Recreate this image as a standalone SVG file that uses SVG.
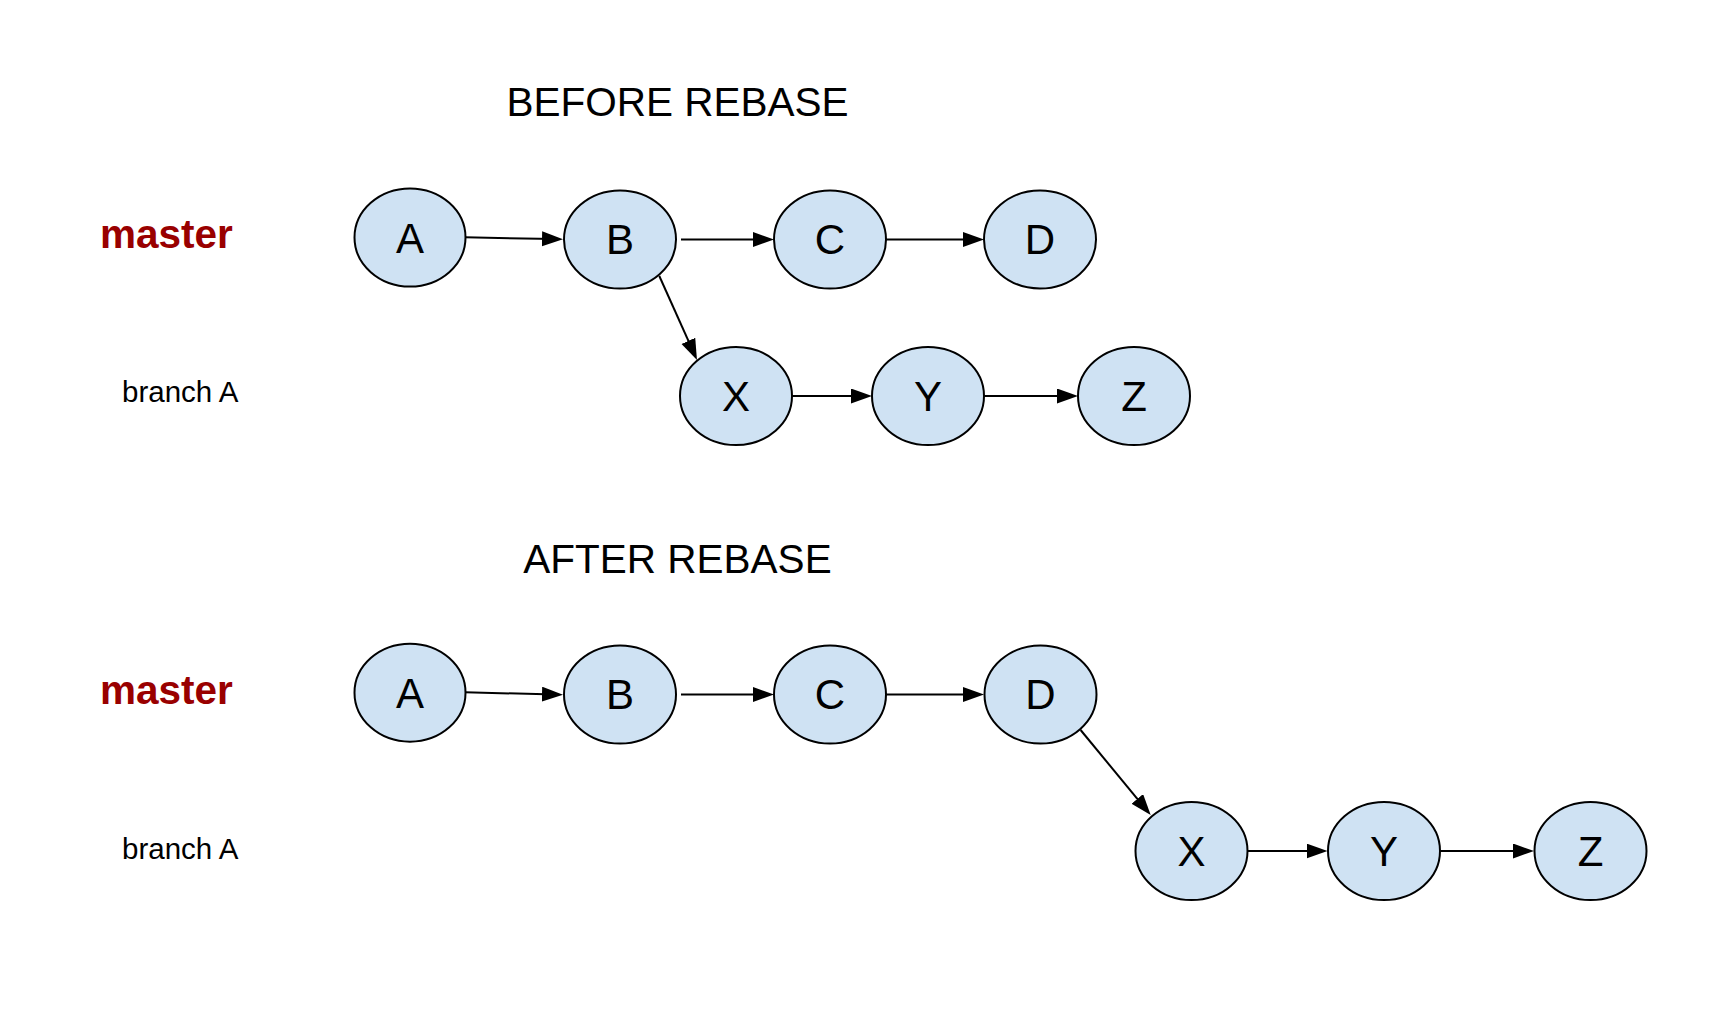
<svg xmlns="http://www.w3.org/2000/svg" width="1736" height="1031" viewBox="0 0 1736 1031">
<style>
  .node ellipse { fill: #cfe2f3; stroke: #000; stroke-width: 2; }
  .node text { font-family: "Liberation Sans", Arial, sans-serif; font-size: 42px; fill: #000; text-anchor: middle; }
  .title { font-family: "Liberation Sans", Arial, sans-serif; font-size: 40.5px; fill: #000; text-anchor: middle; }
  .master { font-family: "Liberation Sans", Arial, sans-serif; font-size: 40.5px; font-weight: bold; fill: #990000; }
  .branch { font-family: "Liberation Sans", Arial, sans-serif; font-size: 29.5px; fill: #000; }
  .edge { stroke: #000; stroke-width: 2; fill: none; marker-end: url(#arrow); }
</style>
<defs>
  <marker id="arrow" markerUnits="userSpaceOnUse" markerWidth="22" markerHeight="16" refX="13" refY="7.5" orient="auto">
    <path d="M0,0 L21,7.5 L0,15 Z" fill="#000"/>
  </marker>
</defs>
<rect x="0" y="0" width="1736" height="1031" fill="#fff"/>

<g id="labels">
  <text class="title" x="677.5" y="116">BEFORE REBASE</text>
  <text class="master" x="100" y="248.3">master</text>
  <text class="branch" x="122" y="402.3">branch A</text>
  <text class="title" x="677.5" y="572.7">AFTER REBASE</text>
  <text class="master" x="100" y="704">master</text>
  <text class="branch" x="122" y="858.5">branch A</text>
</g>

<g id="connectors">
  <line class="edge" x1="465" y1="237.3" x2="555" y2="239.1"/>
  <line class="edge" x1="681" y1="239.5" x2="766" y2="239.5"/>
  <line class="edge" x1="886" y1="239.5" x2="976" y2="239.5"/>
  <line class="edge" x1="659.3" y1="276" x2="693.7" y2="352.7"/>
  <line class="edge" x1="792" y1="396" x2="864" y2="396"/>
  <line class="edge" x1="984" y1="396" x2="1070" y2="396"/>

  <line class="edge" x1="465" y1="692.3" x2="555" y2="694.5"/>
  <line class="edge" x1="681" y1="694.5" x2="766" y2="694.5"/>
  <line class="edge" x1="886" y1="694.5" x2="976" y2="694.5"/>
  <line class="edge" x1="1080.6" y1="730" x2="1145.6" y2="808.9"/>
  <line class="edge" x1="1247.5" y1="851" x2="1319.5" y2="851"/>
  <line class="edge" x1="1440.5" y1="851" x2="1526" y2="851"/>
</g>

<g id="node-before-A" class="node"><ellipse cx="410" cy="237.5" rx="55.5" ry="49"/><text x="410" y="252.7">A</text></g>
<g id="node-before-B" class="node"><ellipse cx="620" cy="239.5" rx="56" ry="49"/><text x="620" y="254">B</text></g>
<g id="node-before-C" class="node"><ellipse cx="830" cy="239.5" rx="56" ry="49"/><text x="830" y="254">C</text></g>
<g id="node-before-D" class="node"><ellipse cx="1040" cy="239.5" rx="56" ry="49"/><text x="1040" y="254">D</text></g>
<g id="node-before-X" class="node"><ellipse cx="736" cy="396" rx="56" ry="49"/><text x="736" y="410.5">X</text></g>
<g id="node-before-Y" class="node"><ellipse cx="928" cy="396" rx="56" ry="49"/><text x="928" y="410.5">Y</text></g>
<g id="node-before-Z" class="node"><ellipse cx="1134" cy="396" rx="56" ry="49"/><text x="1134" y="410.5">Z</text></g>

<g id="node-after-A" class="node"><ellipse cx="410" cy="692.7" rx="55.5" ry="49"/><text x="410" y="707.5">A</text></g>
<g id="node-after-B" class="node"><ellipse cx="620" cy="694.5" rx="56" ry="49"/><text x="620" y="709">B</text></g>
<g id="node-after-C" class="node"><ellipse cx="830" cy="694.5" rx="56" ry="49"/><text x="830" y="709">C</text></g>
<g id="node-after-D" class="node"><ellipse cx="1040.5" cy="694.5" rx="56" ry="49"/><text x="1040.5" y="709">D</text></g>
<g id="node-after-X" class="node"><ellipse cx="1191.5" cy="851" rx="56" ry="49"/><text x="1191.5" y="865.5">X</text></g>
<g id="node-after-Y" class="node"><ellipse cx="1384" cy="851" rx="56" ry="49"/><text x="1384" y="865.5">Y</text></g>
<g id="node-after-Z" class="node"><ellipse cx="1590.5" cy="851" rx="56" ry="49"/><text x="1590.5" y="865.5">Z</text></g>
</svg>
